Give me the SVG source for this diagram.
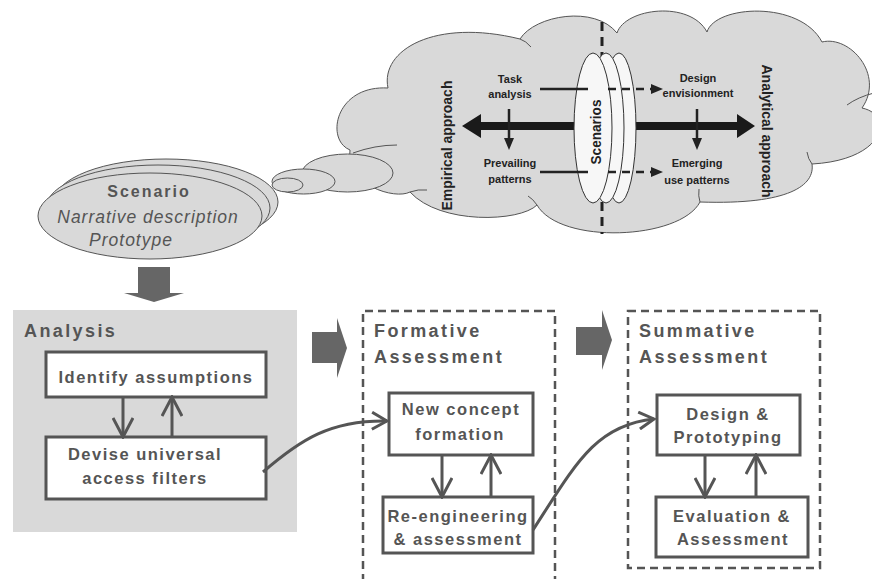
<svg xmlns="http://www.w3.org/2000/svg" width="872" height="579" viewBox="0 0 872 579">
<style>
.t{font-family:"Liberation Sans",Arial,sans-serif;font-weight:bold;fill:#555}
.h{font-size:18px;letter-spacing:2.4px}
.b{font-size:16.5px;letter-spacing:1.5px;text-anchor:middle}
.c{font-family:"Liberation Sans",Arial,sans-serif;font-weight:bold;font-size:11px;fill:#222;text-anchor:middle}
.v{font-family:"Liberation Sans",Arial,sans-serif;font-weight:bold;font-size:14px;fill:#222;text-anchor:middle}
.box{fill:#fff;stroke:#555;stroke-width:3}
.gl{fill:#d9d9d9;stroke:#555;stroke-width:1}
.conn{fill:none;stroke:#555;stroke-width:3}
.blk{fill:#666}
.dash{fill:none;stroke:#555;stroke-width:2.5;stroke-dasharray:8 5}
.k{fill:none;stroke:#222;stroke-width:2.5}
.kd{fill:none;stroke:#222;stroke-width:2.5;stroke-dasharray:8 6}
.hook{fill:none;stroke:#555;stroke-width:1}
.disc{fill:#f7f7f7;stroke:#333;stroke-width:1}
</style>
<defs>
<marker id="open" markerUnits="userSpaceOnUse" viewBox="0 0 22 22" refX="20" refY="11" markerWidth="22" markerHeight="22" orient="auto">
<path d="M1,1 L20,11 L1,21" fill="none" stroke="#555" stroke-width="3"/>
</marker>
<marker id="open2" markerUnits="userSpaceOnUse" viewBox="0 0 18 20" refX="16" refY="10" markerWidth="18" markerHeight="20" orient="auto">
<path d="M1,1.5 L16,10 L1,18.5" fill="none" stroke="#555" stroke-width="3"/>
</marker>
<marker id="tri" markerUnits="userSpaceOnUse" viewBox="0 0 12 12" refX="2" refY="6" markerWidth="12" markerHeight="12" orient="auto">
<path d="M0,1 L12,6 L0,11 Z" fill="#222"/>
</marker>
</defs>

<g id="cloud">
<path class="gl" d="M350,150 C325,140 335,85 388,88 C380,50 435,18 520,39 C535,15 595,5 617,33 C625,8 690,0 707,32 C715,5 800,0 822,42 C850,35 885,75 862,108 C895,115 885,160 812,164 C815,185 790,205 700,202 C680,240 560,245 537,205 C520,222 440,225 410,192 C395,200 345,185 350,150 Z"/>
<path class="hook" d="M520,39 Q526,41 531,47 M847,105 Q858,97 874,93 M812,164 Q808,159 807,152 M700,202 Q698,196 699,189 M537,205 Q533,199 528,196 M410,192 Q418,189 427,190 M353,153 Q375,145 397,145"/>
<ellipse class="gl" cx="347.5" cy="173" rx="45.5" ry="19"/>
<ellipse class="gl" cx="303.5" cy="181.5" rx="31.5" ry="12.5"/>
<ellipse class="gl" cx="287.5" cy="185" rx="15.5" ry="7"/>
<line x1="602" y1="22" x2="602" y2="234" stroke="#222" stroke-width="3" stroke-dasharray="9 6"/>
<polygon fill="#1a1a1a" points="578,122 481,122 481,114 462,126 481,138 481,130 578,130"/>
<polygon fill="#1a1a1a" points="625,122 737,122 737,114 755,126 737,138 737,130 625,130"/>
</g>

<g id="scenarios">
<ellipse class="disc" cx="619" cy="128" rx="17" ry="75"/>
<ellipse class="disc" cx="606" cy="128" rx="18" ry="75"/>
<ellipse class="disc" cx="593" cy="128" rx="19" ry="75" fill="#f2f2f2"/>
<text class="v" font-size="16" transform="translate(601,132) rotate(-90)" textLength="65" lengthAdjust="spacingAndGlyphs">Scenarios</text>
</g>

<g id="task-analysis"><text class="c" x="510" y="83">Task</text><text class="c" x="510" y="98">analysis</text></g>
<g id="prevailing-patterns"><text class="c" x="510" y="167">Prevailing</text><text class="c" x="510" y="183">patterns</text></g>
<g id="design-envisionment"><text class="c" x="698" y="82">Design</text><text class="c" x="698" y="97">envisionment</text></g>
<g id="emerging-use-patterns"><text class="c" x="697" y="167">Emerging</text><text class="c" x="697" y="184">use patterns</text></g>
<g id="empirical"><text class="v" transform="translate(452,145.5) rotate(-90)">Empirical approach</text></g>
<g id="analytical"><text class="v" transform="translate(762,131) rotate(90)">Analytical approach</text></g>

<g id="cloud-connectors">
<line class="k" x1="540" y1="89" x2="588" y2="89"/>
<line class="kd" x1="608" y1="89" x2="653" y2="89" marker-end="url(#tri)"/>
<line class="k" x1="540" y1="172" x2="588" y2="172"/>
<line class="kd" x1="608" y1="172" x2="653" y2="172" marker-end="url(#tri)"/>
<line class="k" x1="509" y1="109" x2="509" y2="140" marker-end="url(#tri)"/>
<line class="k" x1="697" y1="109" x2="697" y2="140" marker-end="url(#tri)"/>
</g>

<g id="scenario">
<ellipse class="gl" cx="166" cy="202" rx="112" ry="43"/>
<ellipse class="gl" cx="158" cy="208" rx="112" ry="43"/>
<ellipse class="gl" cx="150" cy="216" rx="112" ry="43"/>
<text class="t" x="149" y="197" font-size="16" letter-spacing="2" text-anchor="middle">Scenario</text>
<text x="148" y="223" font-family="Liberation Sans,Arial,sans-serif" font-style="italic" font-size="17.5" letter-spacing="1" fill="#555" text-anchor="middle">Narrative description</text>
<text x="131" y="246" font-family="Liberation Sans,Arial,sans-serif" font-style="italic" font-size="17.5" letter-spacing="1" fill="#555" text-anchor="middle">Prototype</text>
</g>

<g id="analysis">
<rect x="13" y="310" width="284" height="222" fill="#d9d9d9"/>
<text class="t h" x="24" y="337">Analysis</text>
</g>
<g id="identify-assumptions">
<rect class="box" x="46" y="352" width="220" height="45"/>
<text class="t b" x="156" y="383">Identify assumptions</text>
</g>
<g id="devise-filters">
<rect class="box" x="46" y="437" width="220" height="62"/>
<text class="t b" x="145" y="460">Devise universal</text>
<text class="t b" x="145" y="484">access filters</text>
</g>

<g id="formative">
<path class="dash" d="M363,582 V311 H555 V582"/>
<text class="t h" x="374" y="337">Formative</text>
<text class="t h" x="374" y="363">Assessment</text>
</g>
<g id="new-concept">
<rect class="box" x="389" y="393" width="144" height="62"/>
<text class="t b" x="461" y="415">New concept</text>
<text class="t b" x="460" y="440">formation</text>
</g>
<g id="re-engineering">
<rect class="box" x="383" y="497" width="150" height="56"/>
<text class="t b" x="458" y="522">Re-engineering</text>
<text class="t b" x="458" y="545">&amp; assessment</text>
</g>

<g id="summative">
<rect class="dash" x="628" y="311" width="192" height="257"/>
<text class="t h" x="639" y="337">Summative</text>
<text class="t h" x="639" y="363">Assessment</text>
</g>
<g id="design-prototyping">
<rect class="box" x="657" y="395" width="143" height="60"/>
<text class="t b" x="728" y="420">Design &amp;</text>
<text class="t b" x="728" y="443">Prototyping</text>
</g>
<g id="evaluation">
<rect class="box" x="656" y="497" width="152" height="60"/>
<text class="t b" x="732" y="522">Evaluation &amp;</text>
<text class="t b" x="733" y="545">Assessment</text>
</g>

<g id="connectors">
<polygon class="blk" points="138,267 170,267 170,293 184,293 154,302 124,293 138,293"/>
<polygon class="blk" points="312,332 337,332 337,318 347,348 337,378 337,363 312,363"/>
<polygon class="blk" points="576,327 602,327 602,310 612,340 602,370 602,355 576,355"/>
<line class="conn" x1="123" y1="397" x2="123" y2="437" marker-end="url(#open)"/>
<line class="conn" x1="172" y1="437" x2="172" y2="397" marker-end="url(#open)"/>
<line class="conn" x1="442" y1="455" x2="442" y2="497" marker-end="url(#open)"/>
<line class="conn" x1="491" y1="497" x2="491" y2="455" marker-end="url(#open)"/>
<line class="conn" x1="705" y1="455" x2="705" y2="497" marker-end="url(#open)"/>
<line class="conn" x1="756" y1="497" x2="756" y2="455" marker-end="url(#open)"/>
<path class="conn" d="M263,472 C300,440 330,420 387,421" marker-end="url(#open2)"/>
<path class="conn" d="M533,530 C575,465 595,425 654,419" marker-end="url(#open2)"/>
</g>
</svg>
